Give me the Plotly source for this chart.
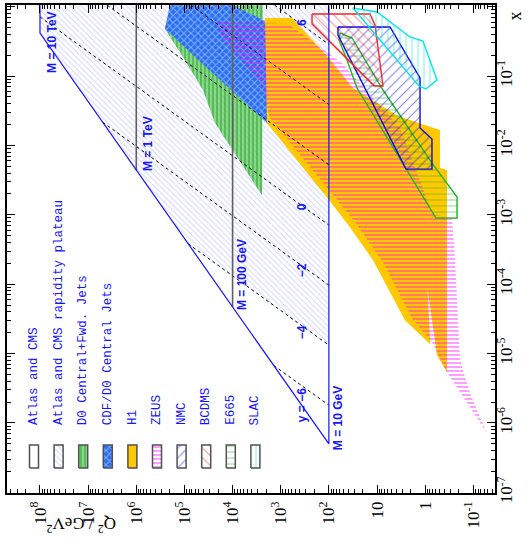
import math
import plotly.graph_objects as go

# ---------------- axis ticks ----------------
q2_tick_vals = [1e-1, 1, 10, 1e2, 1e3, 1e4, 1e5, 1e6, 1e7, 1e8]
q2_tick_text = ["10<sup>-1</sup>", "1", "10", "10<sup>2</sup>", "10<sup>3</sup>",
                "10<sup>4</sup>", "10<sup>5</sup>", "10<sup>6</sup>", "10<sup>7</sup>",
                "10<sup>8</sup>"]
x_tick_vals = [1e-7, 1e-6, 1e-5, 1e-4, 1e-3, 1e-2, 1e-1, 1]
x_tick_text = ["10<sup>-7</sup>", "10<sup>-6</sup>", "10<sup>-5</sup>", "10<sup>-4</sup>",
               "10<sup>-3</sup>", "10<sup>-2</sup>", "10<sup>-1</sup>", "1"]

# ---------------- regions in the (Q^2 [GeV^2], x) plane ----------------
# LHC (14 TeV) kinematic region: M = 10 TeV edge, x1 x2 = M^2/s limit, M = 10 GeV edge
atlas_q2 = [1e8, 1e8, 1e2, 1e2]
atlas_x = [1.05, 0.417, 5.0e-7, 1.05]

# rapidity plateau (above the y = -4 line)
plateau_q2 = [1e8, 1e8, 8.36e4, 1e2, 1e2]
plateau_x = [1.05, 0.417, 3.82e-4, 1.32e-5, 1.05]

d0_q2 = [2.0e5, 2.54e5, 1.07e5, 4.12e4, 2.32e4, 8.11e3, 2.45e3, 2.34e3]
d0_x = [1.05, 0.477, 0.188, 0.0629, 0.0210, 6.79e-3, 1.92e-3, 1.05]

cdf_q2 = [2.0e5, 2.54e5, 1.93e3, 1.93e3, 9.82e3]
cdf_x = [1.05, 0.477, 0.0210, 0.601, 1.05]

h1_q2 = [2.12e3, 583, 104.5, 31.6, 3.67, 0.493, 0.493, 0.352, 0.352, 0.569,
         0.90, 0.78, 2.63, 12.1, 36.5, 99.5, 1.93e3]
h1_x = [0.687, 0.687, 0.188, 0.0672, 0.0265, 0.01665, 4.71e-3, 4.41e-3, 5.38e-6, 9.47e-6,
        9.0e-5, 1.35e-5, 3.03e-5, 2.22e-4, 6.64e-4, 1.63e-3, 0.0210]

zeus_q2 = [2.11e4, 706, 53.5, 3.34, 0.689, 0.277, 0.240, 0.208, 0.189, 0.117, 0.0521,
           0.352, 0.723, 1.88, 7.52, 28.7, 82.2, 1.67e3, 2.45e3, 1.83e4]
zeus_x = [0.601, 0.563, 0.154, 0.0178, 9.90e-4, 9.26e-4, 2.22e-4, 2.40e-5, 8.02e-6, 2.68e-6,
          7.10e-7, 5.38e-6, 1.46e-5, 3.24e-5, 2.08e-4, 7.85e-4, 1.92e-3, 0.0248, 0.0742, 0.391]

nmc_q2 = [64.7, 64.7, 2.51, 0.723, 0.723, 1.28, 1.28, 5.38]
nmc_x = [0.510, 0.391, 4.56e-3, 4.56e-3, 0.01235, 0.0178, 0.0937, 0.510]

bcdms_q2 = [224, 224, 11.5, 7.52, 11.0, 14.0]
bcdms_x = [0.785, 0.563, 0.0718, 0.0718, 0.545, 0.785]

e665_q2 = [58.7, 33.1, 7.52, 0.723, 0.218, 0.218, 0.597, 26.1, 42.1, 61.7]
e665_x = [0.418, 0.3535, 0.0629, 5.57e-3, 1.80e-3, 8.96e-4, 8.96e-4, 0.0672, 0.170, 0.331]

slac_q2 = [31.6, 10.0, 2.07, 1.11, 0.569, 0.962, 1.35]
slac_x = [0.957, 0.839, 0.366, 0.320, 0.0876, 0.065, 0.0718]

# ---------------- constant-mass and constant-rapidity lines ----------------
mass_q2 = [1e6, 1e4]
mass_x_top = [1.05, 1.05]
mass_x_bottom = [4.43e-3, 4.70e-5]

rap_values = [-6, -4, -2, 0, 2, 4, 6]
rap_q2_start = [1.39e3, 8.36e4, 4.99e6, 1e8, 4.0e6, 7.31e4, 1.34e3]
rap_x_start = [6.71e-6, 3.82e-4, 2.16e-2, 0.71, 1.05, 1.05, 1.05]
rap_q2_end = [1e2, 1e2, 1e2, 1e2, 1e2, 1e2, 1e2]
rap_x_end = [1.80e-6, 1.32e-5, 9.68e-5, 7.10e-4, 5.25e-3, 3.88e-2, 0.287]

# ---------------- line labels ----------------
mass_label_text = ["M = 10 TeV", "M = 1 TeV", "M = 100 GeV", "M = 10 GeV"]
mass_label_q2 = [5.64e7, 5.72e5, 6.38e3, 64.7]
mass_label_x = [0.31, 0.0108, 1.40e-4, 1.17e-6]

rap_label_text = ["y = \u22126", "\u22124", "\u22122", "0", "6"]
rap_label_q2 = [362, 362, 362, 362, 362]
rap_label_x = [1.80e-6, 2.03e-5, 1.59e-4, 1.33e-3, 0.601]

# ---------------- legend ----------------
legend_names = ["Atlas and CMS", "Atlas and CMS rapidity plateau", "D0 Central+Fwd. Jets",
                "CDF/D0 Central Jets", "H1", "ZEUS", "NMC", "BCDMS", "E665", "SLAC"]

BLUE = "rgb(20,20,255)"

styles = {
    "atlas": dict(fillcolor="white"),
    "plateau": dict(fillpattern=dict(shape="\\", fgcolor="rgb(165,170,250)",
                                     bgcolor="rgba(0,0,0,0)", size=4, solidity=0.25)),
    "d0": dict(fillpattern=dict(shape="|", fgcolor="rgb(25,155,25)",
                                bgcolor="rgba(110,205,110,0.8)", size=4, solidity=0.45)),
    "cdf": dict(fillpattern=dict(shape="x", fgcolor="rgb(225,235,255)",
                                 bgcolor="rgb(40,110,240)", size=5, solidity=0.38)),
    "h1": dict(fillcolor="rgb(255,200,0)"),
    "zeus": dict(fillpattern=dict(shape="-", fgcolor="rgb(255,0,255)",
                                  bgcolor="rgba(0,0,0,0)", size=4, solidity=0.38)),
    "nmc": dict(fillpattern=dict(shape="/", fgcolor="rgb(10,10,230)",
                                 bgcolor="rgba(0,0,0,0)", size=7, solidity=0.16)),
    "bcdms": dict(fillpattern=dict(shape="\\", fgcolor="rgb(240,40,40)",
                                   bgcolor="rgba(0,0,0,0)", size=7, solidity=0.16)),
    "e665": dict(fillpattern=dict(shape="-", fgcolor="rgb(40,185,40)",
                                  bgcolor="rgba(0,0,0,0)", size=6, solidity=0.18)),
    "slac": dict(fillpattern=dict(shape="|", fgcolor="rgb(0,230,235)",
                                  bgcolor="rgba(0,0,0,0)", size=6, solidity=0.18)),
}
legend_keys = ["atlas", "plateau", "d0", "cdf", "h1", "zeus", "nmc", "bcdms", "e665", "slac"]

fig = go.Figure()


def region(q2, x, key, line=None):
    tr = go.Scatter(x=q2 + q2[:1], y=x + x[:1], mode="lines", fill="toself",
                    line=line or dict(width=0, color="rgba(0,0,0,0)"),
                    hoverinfo="skip", showlegend=False, **styles[key])
    fig.add_trace(tr)


region(plateau_q2, plateau_x, "plateau")
region(d0_q2, d0_x, "d0")
region(cdf_q2, cdf_x, "cdf")
region(h1_q2, h1_x, "h1")
region(zeus_q2, zeus_x, "zeus")
region(e665_q2, e665_x, "e665", dict(color="rgb(30,180,30)", width=1.4))
region(nmc_q2, nmc_x, "nmc", dict(color="rgb(10,10,230)", width=1.4))
region(bcdms_q2, bcdms_x, "bcdms", dict(color="rgb(240,40,40)", width=1.4))
region(slac_q2, slac_x, "slac", dict(color="rgb(0,230,235)", width=1.4))

# rapidity lines
for q0, x0, q1, x1 in zip(rap_q2_start, rap_x_start, rap_q2_end, rap_x_end):
    fig.add_trace(go.Scatter(x=[q0, q1], y=[x0, x1], mode="lines",
                             line=dict(color="black", width=1, dash="3px,3px"),
                             hoverinfo="skip", showlegend=False))

# constant-mass lines
for q, xt, xb in zip(mass_q2, mass_x_top, mass_x_bottom):
    fig.add_trace(go.Scatter(x=[q, q], y=[xt, xb], mode="lines",
                             line=dict(color="rgb(95,95,95)", width=1.6),
                             hoverinfo="skip", showlegend=False))

# LHC kinematic boundary
fig.add_trace(go.Scatter(x=atlas_q2, y=atlas_x, mode="lines",
                         line=dict(color=BLUE, width=1.2),
                         hoverinfo="skip", showlegend=False))

label_font = dict(family="Liberation Sans", size=12, color=BLUE)
for t, q, xv in zip(mass_label_text, mass_label_q2, mass_label_x):
    fig.add_annotation(x=math.log10(q), y=math.log10(xv), xref="x", yref="y", text="<b>%s</b>" % t,
                       textangle=-90, showarrow=False, font=label_font)
for t, q, xv in zip(rap_label_text, rap_label_q2, rap_label_x):
    fig.add_annotation(x=math.log10(q), y=math.log10(xv), xref="x", yref="y", text="<b>%s</b>" % t,
                       textangle=-90, showarrow=False, font=label_font)

# legend drawn inside the frame on an overlay of unit axes
PLOT_W = 488.0
for i, (name, key) in enumerate(zip(legend_names, legend_keys)):
    cx = (27.0 + 24.6 * i) / PLOT_W
    hw = 4.5 / PLOT_W
    y0, y1 = 25.0 / PLOT_W, 48.0 / PLOT_W
    fig.add_trace(go.Scatter(x=[cx - hw, cx + hw, cx + hw, cx - hw, cx - hw],
                             y=[y0, y0, y1, y1, y0], mode="lines", fill="toself",
                             line=dict(color="rgb(80,80,80)", width=1.5),
                             xaxis="x2", yaxis="y2", hoverinfo="skip", showlegend=False,
                             **styles[key]))
    fig.add_annotation(x=cx, y=66.0 / PLOT_W, xref="paper", yref="paper", text=name,
                       textangle=-90, xanchor="center", yanchor="bottom", showarrow=False,
                       font=dict(family="Liberation Mono", size=12.5, color=BLUE))

# axis titles
fig.add_annotation(x=520.0 / PLOT_W, y=483.0 / PLOT_W, xref="paper", yref="paper", text="x",
                   textangle=-90, showarrow=False,
                   font=dict(family="Liberation Serif", size=18, color="black"))
fig.add_annotation(x=37.0 / PLOT_W, y=-45.0 / PLOT_W, xref="paper", yref="paper",
                   text="Q<sup>2</sup> / GeV<sup>2</sup>", textangle=180, showarrow=False,
                   font=dict(family="Liberation Serif", size=17, color="black"))

tick_font = dict(family="Liberation Serif", size=17, color="black")
minor_q2 = [m * 10 ** k for k in range(-2, 9) for m in range(2, 10)]
minor_x = [m * 10 ** k for k in range(-7, 0) for m in range(2, 10)]

fig.update_layout(
    width=532, height=557,
    margin=dict(l=7, r=37, t=5, b=64, pad=0),
    paper_bgcolor="white", plot_bgcolor="white",
    showlegend=False,
    xaxis=dict(type="log", range=[8.685, -1.45], tickmode="array",
               tickvals=q2_tick_vals, ticktext=q2_tick_text, tickangle=-90,
               ticks="inside", ticklen=8, tickwidth=1.2, tickcolor="black",
               minor=dict(tickmode="array", tickvals=minor_q2, ticks="inside",
                          ticklen=4, tickwidth=1, tickcolor="black", showgrid=False),
               showline=True, linecolor="black", linewidth=1.5, mirror="allticks",
               showgrid=False, zeroline=False, tickfont=tick_font, automargin=False),
    yaxis=dict(type="log", range=[-7.01, 0.024], side="right", tickmode="array",
               tickvals=x_tick_vals, ticktext=x_tick_text, tickangle=-90,
               ticks="inside", ticklen=8, tickwidth=1.2, tickcolor="black",
               minor=dict(tickmode="array", tickvals=minor_x, ticks="inside",
                          ticklen=4, tickwidth=1, tickcolor="black", showgrid=False),
               showline=True, linecolor="black", linewidth=1.5, mirror="allticks",
               showgrid=False, zeroline=False, tickfont=tick_font, automargin=False,
               ticklabelstandoff=-5),
    xaxis2=dict(range=[0, 1], overlaying="x", anchor="y2", visible=False, fixedrange=True),
    yaxis2=dict(range=[0, 1], overlaying="y", anchor="x2", visible=False, fixedrange=True),
)

fig.write_html("out.html")
